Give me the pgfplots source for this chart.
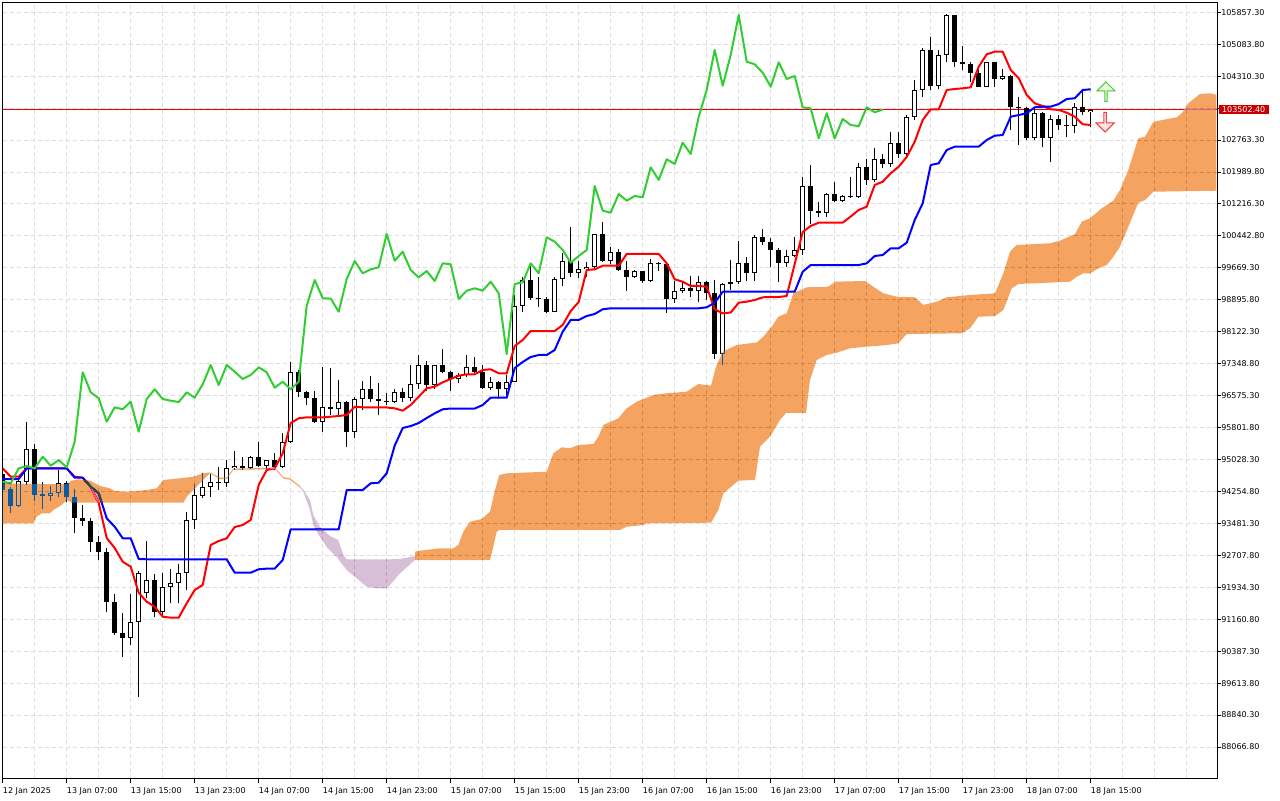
\documentclass[border=0pt]{standalone}
\usepackage{fontspec}
\setmainfont{DejaVu Sans}
\usepackage{pgfplots}
\pgfplotsset{compat=1.18}
\usepackage{pgfplotstable}
\usetikzlibrary{shapes.arrows}

\definecolor{tenkan}{RGB}{255,0,0}
\definecolor{kijun}{RGB}{0,0,255}
\definecolor{chikou}{RGB}{50,205,50}
\definecolor{gridc}{RGB}{221,221,221}
\definecolor{cloudA}{RGB}{11,91,159}
\definecolor{cloudB}{RGB}{39,64,39}
\definecolor{pricebox}{RGB}{200,0,0}
\definecolor{priceln}{RGB}{230,0,0}

% i open high low close tenkan kijun
\pgfplotstableread{
i o h l c t k
0 94670 94726 94217 94290 94815 94556
1 94314 94363 93740 93910 94612 94556
2 93910 94556 93878 94508 94612 94556
3 94491 95929 94411 95276 94815 94815
4 95276 95397 94031 94169 94815 94815
5 94186 94491 93830 94152 94815 94815
6 94152 94387 94031 94210 94815 94815
7 94210 94774 94113 94452 94815 94815
8 94452 94508 94007 94128 94815 94815
9 94128 94307 93242 93605 94612 94588
10 93605 93927 93426 93547 94588 94588
11 93547 93619 92796 93024 94370 94370
12 93024 93176 92595 92796 93975 94210
13 92796 92878 91343 91585 93128 93605
14 91585 91772 90779 90820 92886 93401
15 90820 91319 90253 90713 92554 93121
16 90713 91772 90537 91086 92433 93121
17 91086 92329 89285 92273 91803 92619
18 91789 93055 91668 92111 91585 92612
19 92111 92249 91207 91329 91464 92612
20 91329 92273 91222 91934 91222 92612
21 91934 92370 91547 92031 91198 92612
22 92031 92491 91547 92273 91198 92612
23 92273 93765 91869 93564 91547 92612
24 93564 94435 93346 94169 91869 92612
25 94152 94694 94089 94355 91990 92612
26 94355 94677 94128 94491 92958 92612
27 94491 94840 94290 94452 93055 92612
28 94452 95016 94370 94815 93121 92612
29 94815 95242 94774 94871 93394 92288
30 94871 95096 94774 94815 93443 92288
31 94815 95113 94791 95096 93564 92288
32 95096 95460 94854 94878 94411 92370
33 94878 95016 94774 95016 94774 92386
34 95016 95179 94774 94840 94815 92386
35 94840 95678 94830 95460 95179 92595
36 95460 97382 95421 97140 95912 93338
37 97140 97196 96549 96655 96026 93338
38 96655 96687 96348 96511 96050 93338
39 96511 96687 95912 95944 96050 93338
40 95944 97276 95702 96293 96050 93338
41 96293 97237 96106 96244 96065 93338
42 96244 96954 96106 96428 96082 93338
43 96428 96440 95324 95702 96106 94290
44 95702 96549 95542 96494 96307 94290
45 96494 96929 96227 96728 96293 94290
46 96728 97058 96428 96494 96293 94452
47 96494 96874 96106 96452 96293 94467
48 96452 96639 96348 96420 96288 94694
49 96420 96736 96400 96655 96268 95364
50 96655 96752 96428 96525 96210 95791
51 96525 97317 96445 96850 96348 95839
52 96850 97559 96736 97317 96549 95912
53 97317 97421 96694 96833 96752 96033
54 96833 97317 96736 97317 96791 96147
55 97317 97704 97116 97155 96898 96244
56 97155 97179 96687 96978 96978 96263
57 96978 97116 96874 97075 97058 96263
58 97075 97559 97034 97261 97092 96263
59 97261 97518 97116 97140 97092 96263
60 97140 97317 96736 96767 97196 96348
61 96767 97034 96712 96913 97213 96525
62 96913 96929 96494 96728 97116 96525
63 96728 97075 96590 96913 97116 96525
64 96913 99012 96900 98753 97777 97244
65 98753 99455 98593 99375 97922 97390
66 99375 99755 98891 98932 98140 97511
67 98950 99455 98729 98925 98140 97559
68 98925 98971 98569 98607 98140 97559
69 98607 99455 98600 99399 98140 97680
70 99399 100021 99237 99835 98285 98123
71 99835 100666 99455 99537 98624 98407
72 99537 99842 99416 99634 98842 98407
73 99634 99818 99455 99683 99617 98503
74 99683 100500 99617 100489 99634 98552
75 100489 100780 99818 99842 99721 98666
76 99842 100182 99763 100060 99721 98690
77 100060 100118 99600 99617 99721 98690
78 99617 99842 99116 99440 100005 98690
79 99440 99617 99430 99593 100005 98690
80 99593 99600 99295 99351 100005 98690
81 99351 99876 99334 99779 100005 98690
82 99779 99818 99600 99755 100005 98690
83 99755 99790 98583 98915 99779 98690
84 98915 99358 98811 99116 99392 98690
85 99116 99358 99068 99174 99334 98690
86 99174 99472 98956 99116 99230 98690
87 99116 99472 98850 99334 99230 98690
88 99334 99351 98891 99053 99213 98714
89 99053 99375 97455 97583 98666 98825
90 97583 99295 97317 99278 98568 99092
91 99278 99859 99133 99319 98588 99092
92 99319 100327 99278 99779 98825 99092
93 99779 99939 99358 99537 98850 99092
94 99537 100465 99358 100409 98891 99092
95 100409 100603 100223 100302 98956 99092
96 100302 100385 99697 100101 98963 99092
97 100101 100143 99334 99794 98963 99092
98 99794 100101 99697 99956 98988 99092
99 99956 100424 99925 100101 99763 99092
100 100101 101876 99980 101651 100537 99576
101 101651 102160 100731 101053 100683 99738
102 101053 101271 100908 101005 100763 99738
103 101005 101489 100908 101458 100763 99738
104 101458 101755 101271 101295 100763 99738
105 101295 101433 101271 101409 100763 99738
106 101409 101876 101360 101378 100913 99738
107 101378 102215 101370 102104 101070 99738
108 102104 102298 101676 101797 101150 99779
109 101797 102564 101755 102298 101676 99956
110 102298 102426 102080 102184 101755 99980
111 102184 102966 102119 102700 101959 100143
112 102700 102966 102322 102426 102119 100143
113 102426 103370 102354 103329 102354 100278
114 103329 104218 103249 103976 102724 100828
115 103976 104986 103799 104944 103249 101232
116 104944 105266 103976 104080 103509 102160
117 104080 104944 103993 104823 103509 102201
118 104823 105816 104661 105792 103976 102523
119 105792 105800 104540 104661 104000 102603
120 104661 105041 104460 104598 104017 102603
121 104598 104661 104177 104395 104041 102603
122 104395 104540 104041 104056 104540 102603
123 104056 104661 104041 104647 104840 102765
124 104647 104661 104056 104242 104903 102869
125 104242 104477 104218 104315 104903 102886
126 104315 104339 103007 103557 104460 103329
127 103557 103814 102644 103530 104259 103370
128 103530 103570 102765 102806 103855 103412
129 102806 103570 102765 103412 103654 103557
130 103412 103450 102588 102806 103588 103571
131 102806 103370 102240 103274 103509 103571
132 103274 103370 103007 103128 103492 103637
133 103128 103370 102845 103100 103426 103758
134 103100 103654 102927 103557 103329 103775
135 103557 103976 103370 103436 103147 103976
136 103436 103510 103087 103502.4 103128 103993
}\candles

\begin{document}
\begin{tikzpicture}
\useasboundingbox (0,0) rectangle (960pt,600pt);
\begin{axis}[
  at={(2.025pt,15.975pt)}, anchor=south west,
  scale only axis, width=910.725pt, height=582.3pt,
  xmin=0, xmax=151.7875, ymin=87299.2, ymax=106099.5,
  scaled x ticks=false, scaled y ticks=false,
  clip mode=individual,
  axis background/.style={fill=white},
  axis line style={black, line width=0.75pt},
  xtick={0,8,...,136},
  xticklabels={12 Jan 2025,13 Jan 07:00,13 Jan 15:00,13 Jan 23:00,14 Jan 07:00,14 Jan 15:00,14 Jan 23:00,15 Jan 07:00,15 Jan 15:00,15 Jan 23:00,16 Jan 07:00,16 Jan 15:00,16 Jan 23:00,17 Jan 07:00,17 Jan 15:00,17 Jan 23:00,18 Jan 07:00,18 Jan 15:00},
  minor xtick={4,12,...,148,144},
  ytick={88066.8,88840.3,89613.8,90387.3,91160.8,91934.3,92707.8,93481.3,94254.8,95028.3,95801.8,96575.3,97348.8,98122.3,98895.8,99669.3,100442.8,101216.3,101989.8,102763.3,103536.8,104310.3,105083.8,105857.3},
  yticklabels={88066.80,88840.30,89613.80,90387.30,91160.80,91934.30,92707.80,93481.30,94254.80,95028.30,95801.80,96575.30,97348.80,98122.30,98895.80,99669.30,100442.80,101216.30,101989.80,102763.30,{},104310.30,105083.80,105857.30},
  xtick pos=left, ytick pos=right, yticklabel pos=right,
  tick align=outside, major tick length=3pt, minor tick length=0pt,
  tick style={black, line width=0.75pt},
  grid=both,
  major grid style={gridc, line width=0.75pt, dash pattern=on 3pt off 2.25pt},
  minor grid style={gridc, line width=0.75pt, dash pattern=on 3pt off 2.25pt},
  xticklabel style={anchor=north west, inner sep=0pt, yshift=-3.5pt, font=\fontsize{6}{7}\selectfont},
  yticklabel style={anchor=west, inner sep=0pt, font=\fontsize{6}{7}\selectfont},
]
% current price line at 103502.40 (one pixel band, under candles and cloud)
\addplot[draw=none, fill=priceln, forget plot] coordinates {
(-2,103490.3) (160,103490.3) (160,103514.5) (-2,103514.5)};

% candle wicks
\addplot[only marks, mark=*, mark size=0pt, mark options={draw=none, fill=none}, forget plot,
  error bars/.cd, y dir=plus, y explicit, error mark=none,
  error bar style={draw=black, line width=0.75pt}]
  table[x=i, y=l, y error plus expr={\thisrow{h}-\thisrow{l}}] \candles;
% candle bodies (outline / bear fill)
\addplot[only marks, mark=*, mark size=0pt, mark options={draw=none, fill=none}, forget plot,
  error bars/.cd, y dir=plus, y explicit, error mark=none,
  error bar style={draw=black, line width=3.75pt}]
  table[x=i, y expr={min(\thisrow{o},\thisrow{c})},
        y error plus expr={max(abs(\thisrow{c}-\thisrow{o}),22)}] \candles;
% hollow interior of bull candles
\addplot[only marks, mark=*, mark size=0pt, mark options={draw=none, fill=none}, forget plot,
  error bars/.cd, y dir=plus, y explicit, error mark=none,
  error bar style={draw=white, line width=2.25pt}]
  table[x=i, y expr={\thisrow{o}+24},
        y error plus expr={(\thisrow{c}>\thisrow{o})*max(\thisrow{c}-\thisrow{o}-48,0)}] \candles;

% Ichimoku lines
\addplot[tenkan, line width=1.5pt, line join=round] table[x=i, y=t] \candles;
\addplot[kijun, line width=1.5pt, line join=round] table[x=i, y=k] \candles;
\addplot[chikou, line width=1.5pt, line join=round] table[x expr={\thisrow{i}-26}, y=c] \candles;

% cloud (drawn with difference blending, as the terminal does)
\addplot[draw=none, fill=cloudA, blend mode=difference] coordinates {
(-1,94452) (0,94452) (4,94435) (8,94435) (8.63,94516) (9.45,94549) (10.91,94516) (12.16,94387)
(13.41,94331) (14.04,94266) (15.5,94249) (18,94290) (19.25,94331) (20.08,94532) (22.16,94573)
(23.83,94612) (25.04,94694) (25.91,94718) (27.16,94590) (28,94590) (28.83,94808) (34.04,94832)
(35.08,94605) (35.91,94573) (37.16,94387)
(37.16,94353) (35.91,94539) (35.08,94571) (34.04,94798) (28.83,94774) (28,94556) (27.16,94556)
(25.91,94694) (25.04,94532) (23.83,94290) (23,94128) (22.58,93983) (8.63,93983) (8,94048)
(7.38,93927) (6.33,93806) (5.91,93727) (4.88,93727) (4.25,93644) (3.83,93484) (-1,93484)};
\addplot[draw=none, fill=cloudB, blend mode=difference] coordinates {
(37.16,94387) (37.58,94290) (38.41,94048) (38.83,93685) (39.66,93394) (40.91,93176) (41.95,93079)
(42.58,92717) (43,92612) (48.41,92612) (49.66,92619) (51.54,92692)
(51.54,92595) (49.66,92273) (48.41,91990) (48,91910) (46.75,91910) (45.5,91949) (44.25,92152)
(43,92353) (41.75,92668) (40.5,92910) (39.66,93152) (38.83,93443) (38.41,93806) (37.58,94242)
(37.16,94353)};
\addplot[draw=none, fill=cloudA, blend mode=difference] coordinates {
(51.54,92796) (52.16,92820) (54.66,92878) (56.33,92878) (56.95,92958) (57.58,93280) (58.41,93522)
(59.88,93588) (60.91,93765) (61.54,94290) (62.08,94653) (63,94694) (68,94733) (68.83,95179)
(69.88,95324) (70.91,95300) (71.95,95380) (73.83,95404) (74.45,95581) (75.08,95864) (76.95,96026)
(78,96268) (79.25,96428) (81.33,96590) (83,96632) (85.5,96670) (86.95,96857) (88.54,96816)
(89.16,97276) (90,97639) (91.75,97801) (94.25,97862) (95.08,98002) (96.13,98244) (96.95,98486)
(98,98570) (98.41,98811) (98.83,99053) (100.5,99198) (103.2,99213) (104.04,99334) (107.79,99351)
(108.83,99213) (110.08,99053) (111.75,98971) (114.04,98956) (115.08,98770) (116.75,98850)
(118,98956) (120.91,99012) (124.04,99053) (125.08,99537) (125.91,100060) (126.75,100223)
(130.91,100264) (132.16,100327) (134.04,100489) (134.88,100787) (135.91,100869) (137.38,101111)
(138.83,101295) (139.66,101554) (140.7,102039) (141.95,102806) (142.79,102845) (143.83,103208)
(146.75,103315) (147.38,103412) (148.2,103654) (149.66,103879) (150.91,103896) (151.72,103860)
(151.72,101537) (143.83,101513) (142.79,101312) (141.95,101247) (140.7,100666) (139.66,100182)
(138.83,99939) (138,99738) (136.95,99658) (135.91,99537) (135.08,99537) (134.25,99455)
(133.41,99334) (126.95,99278) (126.13,99174) (125.08,98649) (124.04,98503) (121.95,98486)
(120.91,98205) (119.88,98084) (113,98067) (111.95,97842) (110.5,97801) (108,97760) (105.91,97721)
(104.25,97614) (103,97559) (101.75,97438) (100.91,96954) (100.41,96155) (97.91,96155)
(97.16,95985) (95.91,95581) (94.66,95339) (94.04,94532) (91.95,94516) (90.08,94210) (89.45,93806)
(88.54,93498) (80.5,93484) (80.08,93443) (78,93402) (77.16,93322) (62.08,93322) (61.75,93280)
(61.13,92757) (60.91,92595) (51.54,92595)};

% signal arrows
\node[single arrow, rotate=90, draw={rgb,255:red,70;green,200;blue,60}, fill={rgb,255:red,235;green,250;blue,215},
  line width=0.75pt, minimum width=13.5pt, minimum height=14.7pt, single arrow head extend=2.6pt,
  inner sep=0pt] at (axis cs:137.9,103920) {};
\node[single arrow, rotate=-90, draw={rgb,255:red,240;green,60;blue,60}, fill={rgb,255:red,255;green,228;blue,228},
  line width=0.75pt, minimum width=13.5pt, minimum height=14.7pt, single arrow head extend=2.6pt,
  inner sep=0pt] at (axis cs:137.8,103210) {};

% current price label on the price scale
\node[anchor=west, fill=pricebox, text=white, inner xsep=2.4pt, inner ysep=1.2pt,
  font=\fontsize{6}{7}\selectfont, xshift=1.2pt] at (axis cs:151.7875,103502.4) {103502.40};
\end{axis}
\end{tikzpicture}
\end{document}
